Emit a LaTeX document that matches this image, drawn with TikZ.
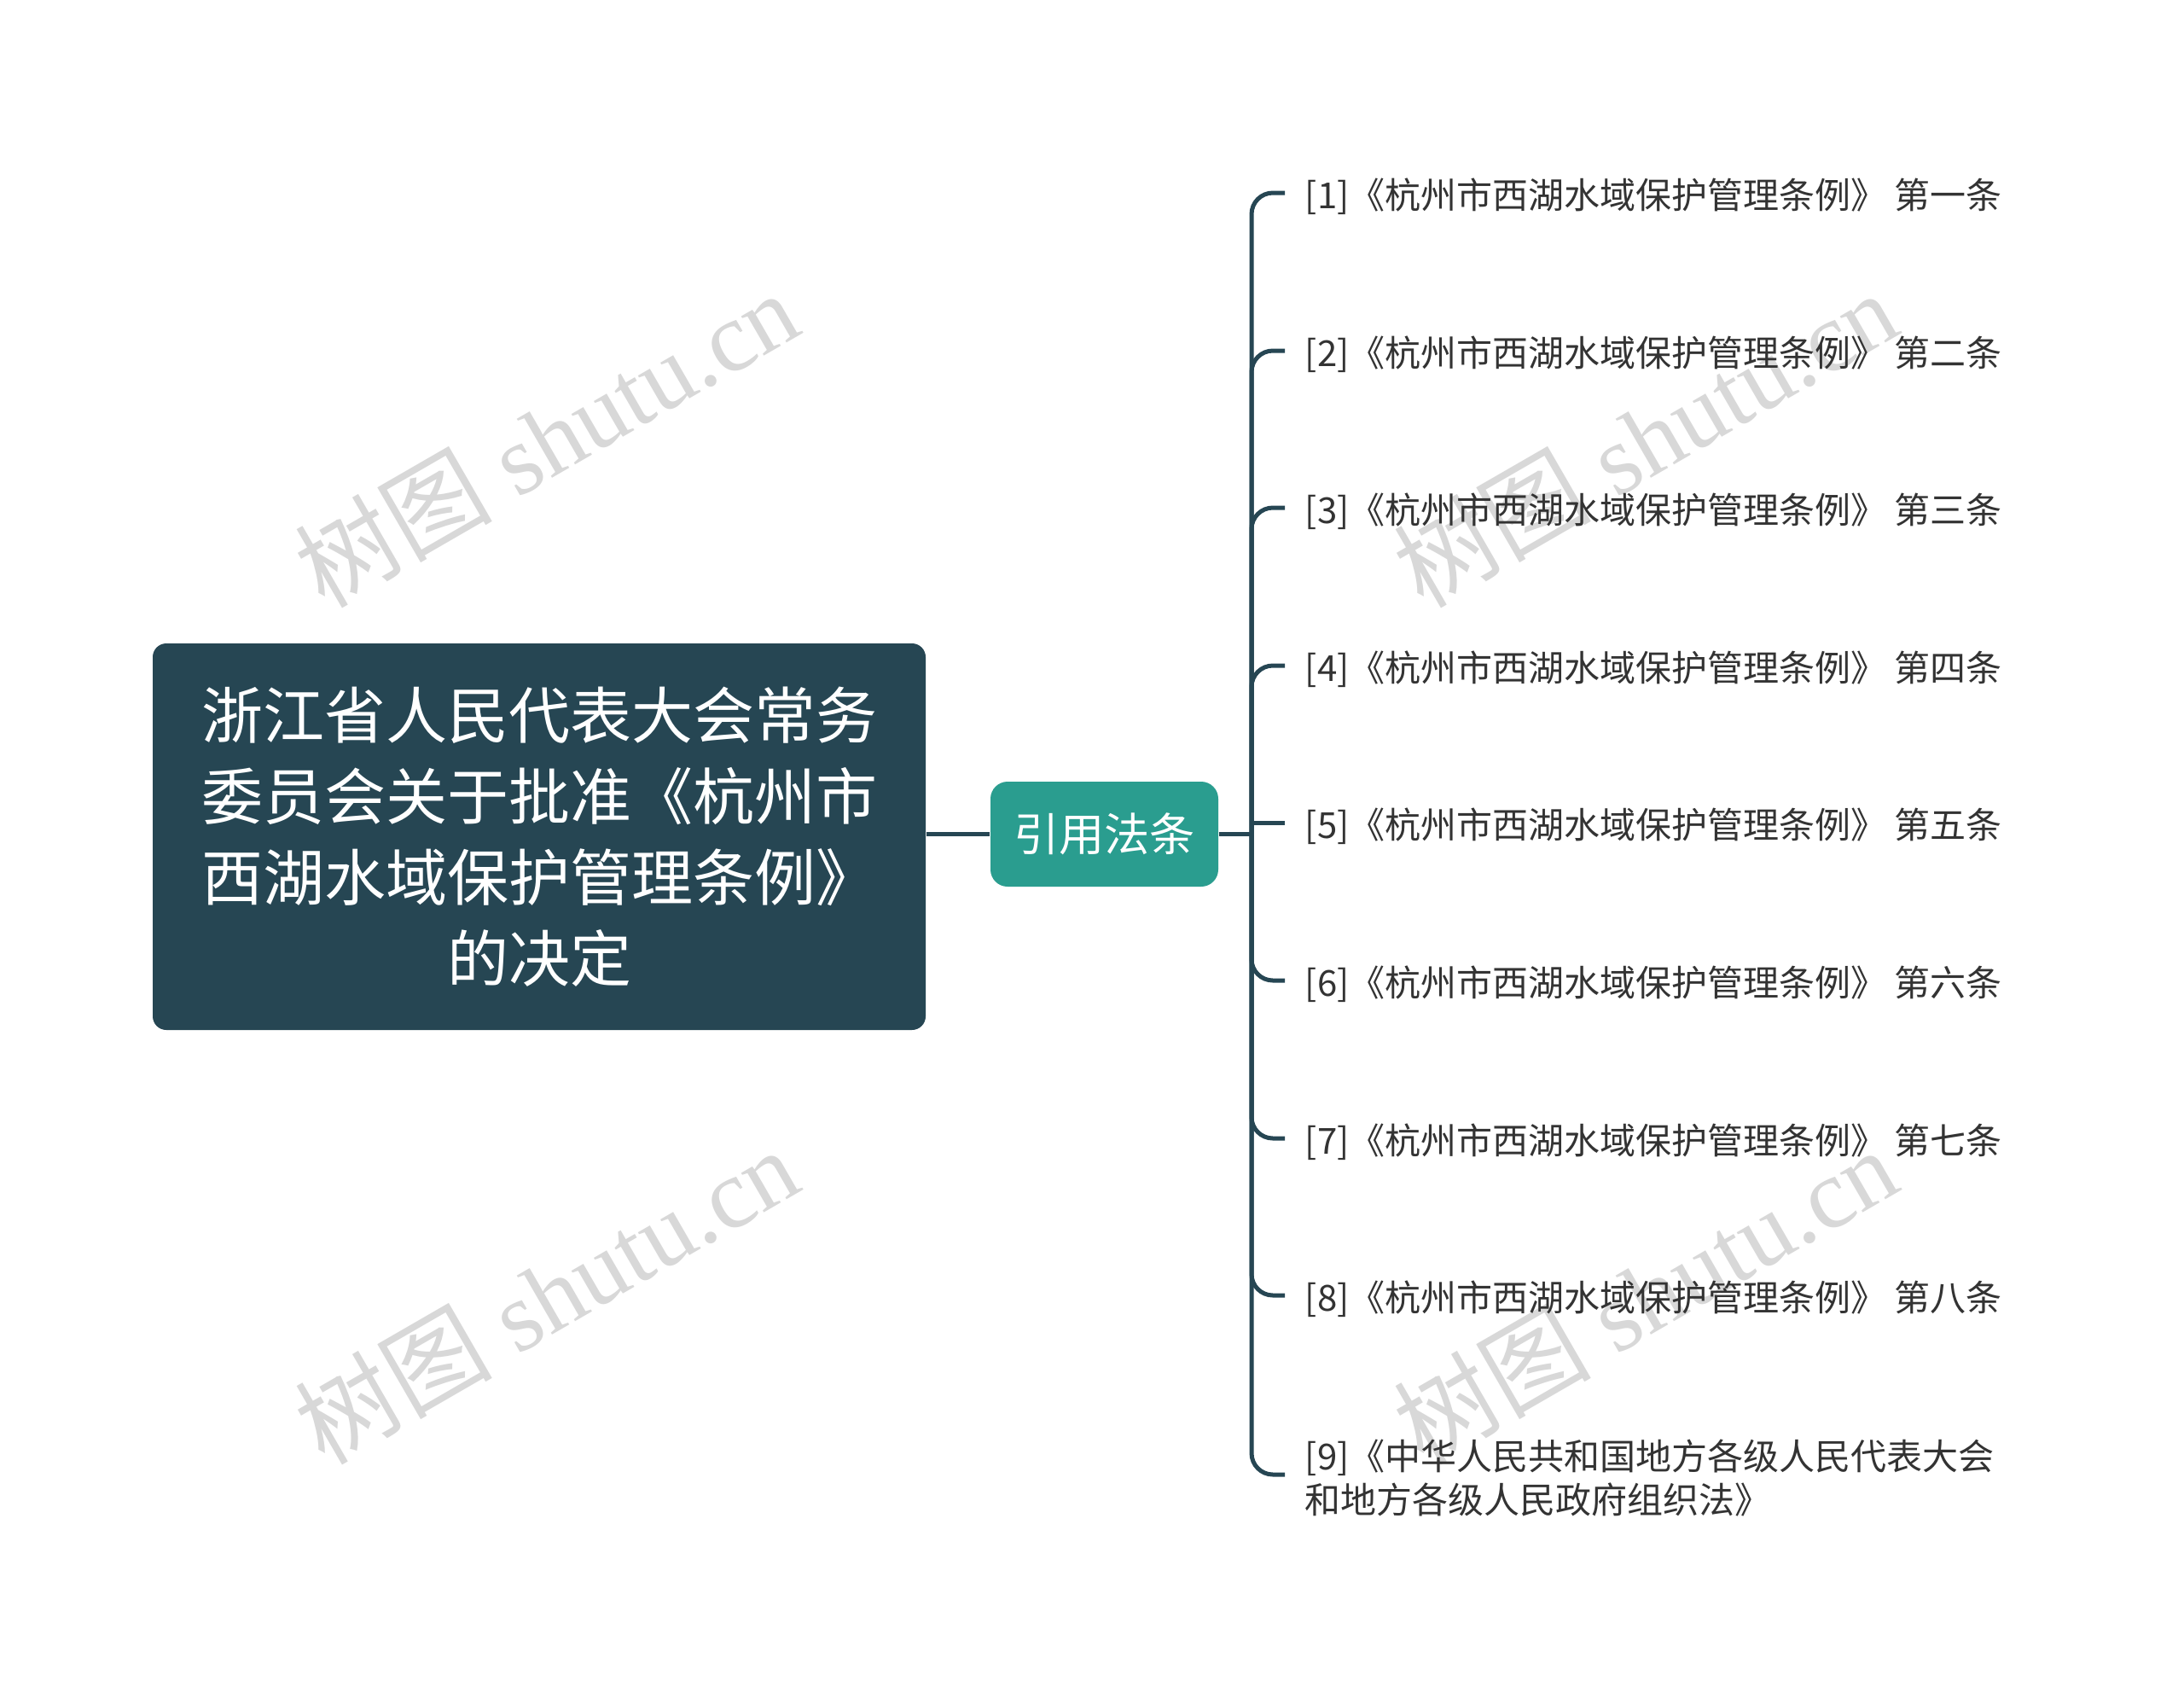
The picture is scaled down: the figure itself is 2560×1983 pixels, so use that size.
\documentclass[tikz,border=0pt]{standalone}
\usepackage{fontspec}
\newfontfamily\cjk{Noto Sans CJK SC}
\newfontfamily\wmserif{Liberation Serif}
\definecolor{darkslate}{HTML}{264653}
\definecolor{midteal}{HTML}{2A9D8F}
\definecolor{leaftext}{HTML}{333333}
\definecolor{wmgray}{RGB}{216,216,216}
\begin{document}
\begin{tikzpicture}[x=0.25pt,y=-0.25pt,
  rootbox/.style={fill=darkslate, rounded corners=4pt, inner sep=0pt,
    minimum width=226.5pt, minimum height=113.25pt, align=center,
    text=white, font=\cjk\fontsize{18}{23.8}\selectfont},
  midbox/.style={fill=midteal, rounded corners=5pt, inner sep=0pt,
    minimum width=66.75pt, minimum height=30.75pt,
    text=white, font=\cjk\fontsize{13.3}{16}\selectfont},
  leaf/.style={anchor=west, inner sep=0pt, text=leaftext, align=left,
    font=\cjk\fontsize{10.5}{12.75}\selectfont},
  conn/.style={draw=darkslate, line width=1.25pt},
  wm/.style={text=wmgray, rotate=30, inner sep=0pt,
    font=\fontsize{29}{31}\selectfont}
]
\useasboundingbox[fill=white] (0,0) rectangle (2560,1983);

% watermarks
\node[wm] (wm1) at (640,514) {{\cjk 树图}{\wmserif\ shutu.cn}};
\node[wm] (wm2) at (1928,514) {{\cjk 树图}{\wmserif\ shutu.cn}};
\node[wm] (wm3) at (640,1518) {{\cjk 树图}{\wmserif\ shutu.cn}};
\node[wm] (wm4) at (1928,1518) {{\cjk 树图}{\wmserif\ shutu.cn}};

% nodes
\node[rootbox] (root) at (632,980.5) {浙江省人民代表大会常务\\委员会关于批准《杭州市\\西湖水域保护管理条例》\\的决定};
\node[midbox] (mid) at (1294.5,977.5) {引用法条};
\coordinate (J) at (1467,977.5);

\node[leaf] (L1) at (1529,230) {[1]《杭州市西湖水域保护管理条例》 第一条};
\node[leaf] (L2) at (1529,415) {[2]《杭州市西湖水域保护管理条例》 第二条};
\node[leaf] (L3) at (1529,599) {[3]《杭州市西湖水域保护管理条例》 第三条};
\node[leaf] (L4) at (1529,784) {[4]《杭州市西湖水域保护管理条例》 第四条};
\node[leaf] (L5) at (1529,968) {[5]《杭州市西湖水域保护管理条例》 第五条};
\node[leaf] (L6) at (1529,1153) {[6]《杭州市西湖水域保护管理条例》 第六条};
\node[leaf] (L7) at (1529,1338) {[7]《杭州市西湖水域保护管理条例》 第七条};
\node[leaf] (L8) at (1529,1522) {[8]《杭州市西湖水域保护管理条例》 第八条};
\node[leaf] (L9) at (1529,1732) {[9]《中华人民共和国地方各级人民代表大会\\和地方各级人民政府组织法》};

% branch end points, just left of each leaf
\foreach \i in {1,...,9}{
  \coordinate (E\i) at ([xshift=-5.75pt,yshift=1pt]L\i.west);
}

% connectors
\draw[conn] (root.east |- mid.west) -- (mid.west);
\draw[conn] (mid.east) -- (J);
\foreach \i in {1,2,3,4,6,7,8,9}{
  \draw[conn, rounded corners=6.25pt] (J) |- (E\i);
}
\draw[conn] (J |- E5) -- (E5);
\end{tikzpicture}
\end{document}
